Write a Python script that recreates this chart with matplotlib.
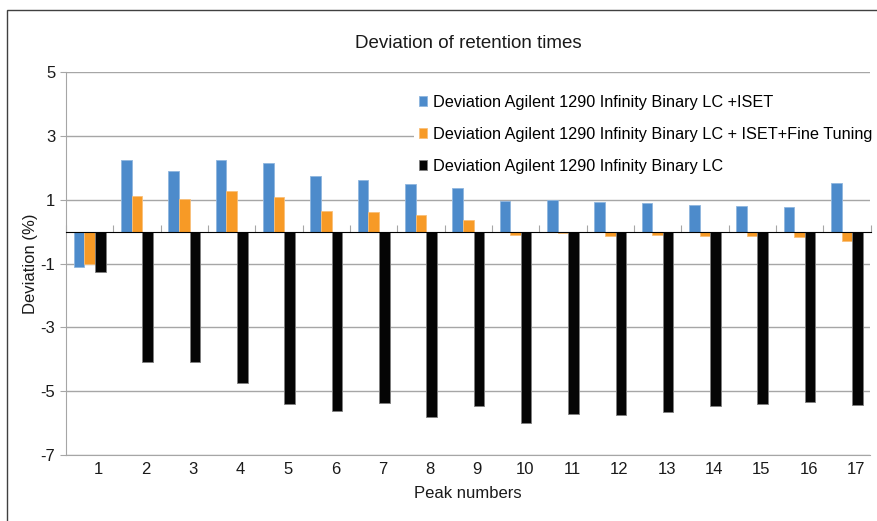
import matplotlib
matplotlib.use("Agg")
import matplotlib.pyplot as plt
import matplotlib.patches as patches
import matplotlib.transforms as mtransforms
import numpy as np

plt.rcParams['font.family'] = ['Liberation Sans', 'DejaVu Sans']
plt.rcParams['axes.unicode_minus'] = False

peaks = [str(i) for i in range(1, 18)]
iset = [-1.12, 2.23, 1.89, 2.25, 2.16, 1.73, 1.61, 1.50, 1.38, 0.97, 1.00,
        0.92, 0.90, 0.83, 0.81, 0.78, 1.52]
iset_fine = [-1.02, 1.12, 1.03, 1.28, 1.07, 0.65, 0.60, 0.53, 0.37, -0.10, -0.03,
             -0.13, -0.12, -0.14, -0.15, -0.16, -0.31]
no_iset = [-1.27, -4.10, -4.08, -4.73, -5.40, -5.61, -5.36, -5.80, -5.47, -6.01, -5.72,
           -5.74, -5.65, -5.47, -5.40, -5.34, -5.43]
labels = ["Deviation Agilent 1290 Infinity Binary LC +ISET",
          "Deviation Agilent 1290 Infinity Binary LC + ISET+Fine Tuning",
          "Deviation Agilent 1290 Infinity Binary LC"]
colors = ['#4d8bcb', '#f79a26', '#050505']

W, H = 878, 521
fig = plt.figure(figsize=(W / 100, H / 100), dpi=100)
ax = fig.add_axes([66 / W, 1 - 455 / H, (870.5 - 66) / W, (455 - 72) / H])

x = np.arange(1, 18)
w = 0.224
series = [iset, iset_fine, no_iset]
edges = ['#8fb6df', '#f9c07a', '#7f7f7f']
for i, vals in enumerate(series):
    ax.bar(x + (i - 1) * w, vals, w, color=colors[i], edgecolor=edges[i],
           linewidth=0.6, label=labels[i], zorder=3)

ax.set_xlim(0.5, 17.5)
ax.set_ylim(-7, 5)
ax.set_yticks(np.arange(-7, 6, 2))
ax.yaxis.grid(True, color='#a6a6a6', linewidth=1, zorder=0)
ax.set_axisbelow(True)
for s in ['top', 'right']:
    ax.spines[s].set_visible(False)
for s in ['left', 'bottom']:
    ax.spines[s].set_color('#a6a6a6')
ax.tick_params(axis='y', length=4, color='#a6a6a6', pad=3.8, labelsize=12,
               labelcolor='#1a1a1a')
ax.set_xticks(x)
ax.set_xticklabels(peaks)
ax.tick_params(axis='x', length=0, pad=5, labelsize=12, labelcolor='#1a1a1a')
off = mtransforms.ScaledTranslation(9 / 100, 0, fig.dpi_scale_trans)
for lab in ax.get_xticklabels():
    lab.set_transform(lab.get_transform() + off)

# zero line with category boundary ticks
zero = ax.secondary_xaxis(7 / 12)
zero.set_xticks(np.arange(0.5, 18, 1))
zero.set_xticklabels([])
zero.tick_params(direction='out', length=5, color='#a6a6a6')
zero.spines['bottom'].set_color('#a6a6a6')
zero.spines['bottom'].set_linewidth(1)
zero.set_zorder(4)

ax.set_ylabel('Deviation (%)', fontsize=12, color='#1a1a1a')
ax.yaxis.set_label_coords((38 - 66) / 804.5, 0.5)
ax.set_xlabel('Peak numbers', fontsize=12, color='#1a1a1a')
ax.xaxis.label.set_verticalalignment('center')
ax.xaxis.set_label_coords(0.5, (455 - 494) / 383)

fig.text(468 / W, 1 - 43 / H, 'Deviation of retention times', fontsize=13.5,
         ha='center', va='center', color='#1a1a1a')

leg = ax.legend(loc='upper left', bbox_to_anchor=(414 / W, 1 - 90 / H),
                bbox_transform=fig.transFigure, fontsize=11.7, frameon=True,
                facecolor='white', edgecolor='none', framealpha=1,
                handlelength=0.5, handleheight=0.5, handletextpad=0.4,
                labelspacing=1.04, borderaxespad=0, borderpad=0.3, fancybox=False)
leg.set_zorder(5)

fig.patches.append(patches.Rectangle((7 / W, -0.05), 1.05, 1 - 10 / H + 0.05,
                                     transform=fig.transFigure, fill=False,
                                     edgecolor='#404040', linewidth=1))

fig.savefig('out.png', dpi=100)
